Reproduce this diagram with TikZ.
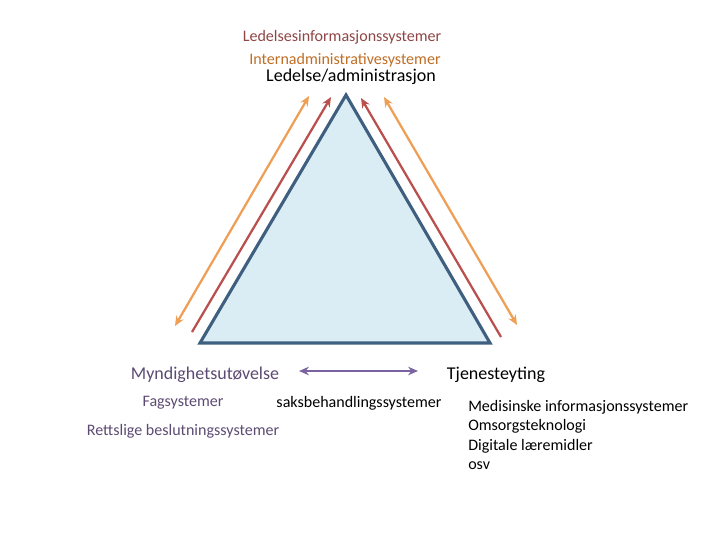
\documentclass[tikz,border=0pt]{standalone}
\usepackage{fontspec}
\setmainfont{Carlito}
\usetikzlibrary{arrows.meta}

\definecolor{triline}{HTML}{3F5F80}
\definecolor{trifill}{HTML}{DAEDF4}
\definecolor{orangearr}{HTML}{EE9E55}
\definecolor{redarr}{HTML}{B9504E}
\definecolor{purplearr}{HTML}{7B62A0}
\definecolor{toptxt}{HTML}{8E4545}
\definecolor{midtxt}{HTML}{C06D25}
\definecolor{purtxt}{HTML}{5C4A72}

\tikzset{
  big/.style={font=\fontsize{12.8}{15}\selectfont},
  small/.style={font=\fontsize{11.4}{13.8}\selectfont},
  orangeline/.style={orangearr, line width=1.6pt},
  redline/.style={redarr, line width=1.6pt},
}

\begin{document}
\begin{tikzpicture}[x=0.025cm,y=-0.025cm, >={Stealth[length=7pt,width=6pt]}]
\useasboundingbox (0,0) rectangle (720,540);

% triangle
\coordinate (top) at (346,95);
\coordinate (bl) at (200,343);
\coordinate (br) at (490,343);
\draw[triline, fill=trifill, line width=2.2pt, line join=miter] (top) -- (bl) -- (br) -- cycle;

% arrows left side
\coordinate (ol1) at (175,326);
\coordinate (ol2) at (309,96);
\coordinate (rl1) at (192,332);
\coordinate (rl2) at (331,97);
\draw[orangeline,<->] (ol1) -- (ol2);
\draw[redline,->] (rl1) -- (rl2);

% arrows right side
\coordinate (rr1) at (501,337);
\coordinate (rr2) at (361,98);
\coordinate (or1) at (517,325);
\coordinate (or2) at (384,97);
\draw[redline,->] (rr1) -- (rr2);
\draw[orangeline,<->] (or1) -- (or2);

% top labels
\node[small, text=toptxt] (leis) at (342,37) {Ledelsesinformasjonssystemer};
\node[small, text=midtxt] (intern) at (345,60) {Internadministrativesystemer};
\node[big] (ledelse) at (351,77) {Ledelse/administrasjon};

% bottom left
\node[big, text=purtxt] (mynd) at (205,375) {Myndighetsutøvelse};
\node[small, text=purtxt] (fag) at (183,403) {Fagsystemer};
\node[small, text=purtxt] (rett) at (183,431) {Rettslige beslutningssystemer};
\node[small] (saks) at (359,403) {saksbehandlingssystemer};

% bottom right
\node[big] (tjen) at (496,375) {Tjenesteyting};
\node[small, anchor=north west, align=left, inner sep=0pt] (list) at (468,400)
  {Medisinske informasjonssystemer\\Omsorgsteknologi\\Digitale læremidler\\osv};

\coordinate (pa) at (299,371);
\coordinate (pb) at (418,371);
\draw[purplearr, line width=2pt, <->] (pa) -- (pb);

\end{tikzpicture}
\end{document}
